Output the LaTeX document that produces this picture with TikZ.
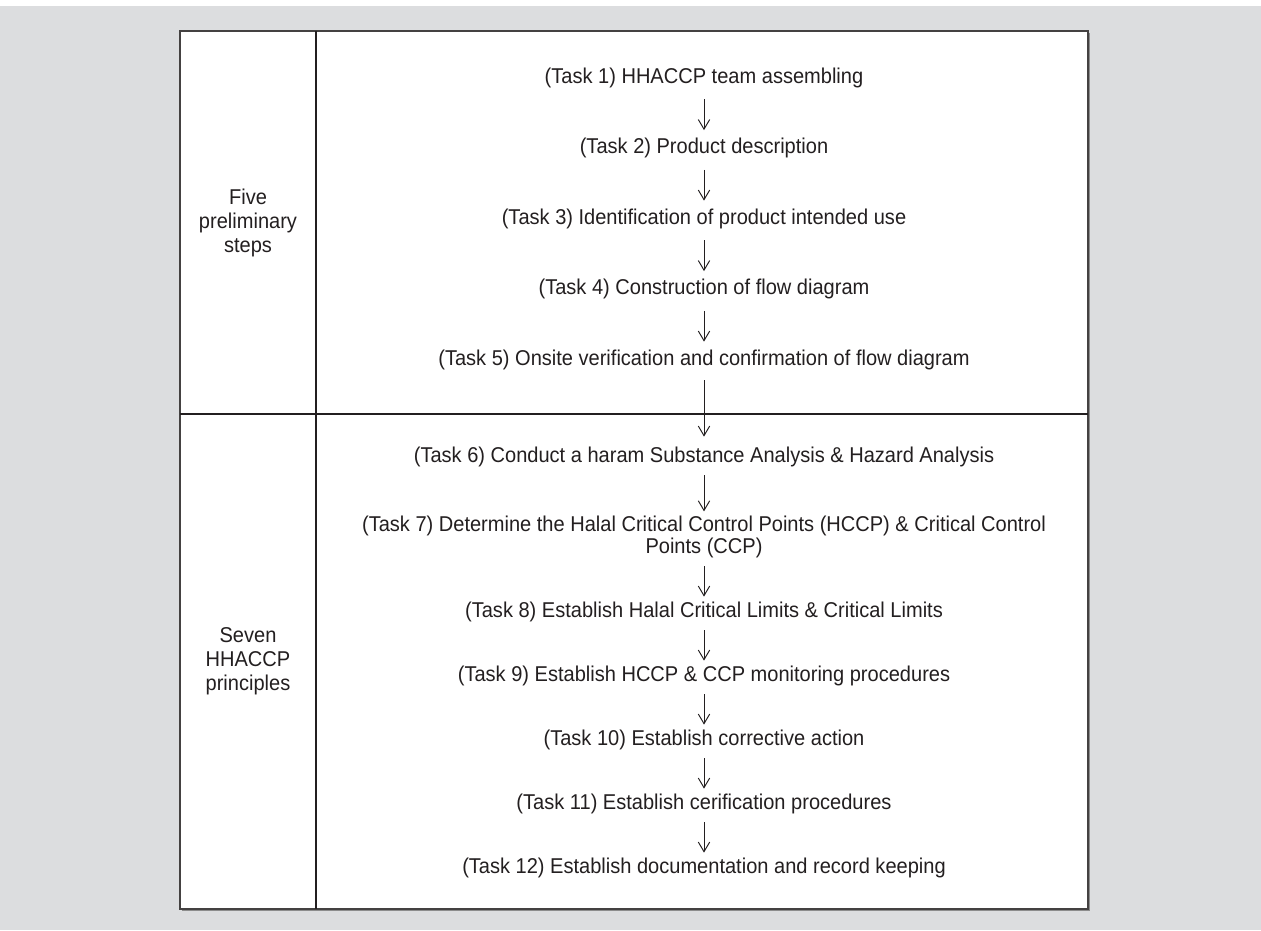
\documentclass[tikz,border=0pt]{standalone}
\usepackage{fontspec}
\setmainfont[FakeStretch=0.935]{Liberation Sans}
\usetikzlibrary{arrows.meta}

\definecolor{pagegray}{RGB}{220,221,223}
\definecolor{ink}{RGB}{35,31,32}

\begin{document}
\begin{tikzpicture}[x=0.02cm, y=-0.02cm,
        task/.style={anchor=base, inner sep=0pt, text=ink, align=center},
        group/.style={inner sep=0pt, text=ink, align=center},
        flow/.style={-{Straight Barb[length=5.5pt,width=6.5pt]}, line width=0.55pt, ink},
        upper/.style={flow, shorten <=0.23cm, shorten >=0.15cm},
        lower/.style={flow, shorten <=0.17cm, shorten >=0.09cm},
        cross/.style={flow, shorten <=0.21cm, shorten >=0.19cm}]
        \fontsize{12.2}{13.66}\selectfont
        \useasboundingbox (0,0) rectangle (1261,930);
        \fill[pagegray] (0,6) rectangle (1261,930);

        % table frame
        \fill[black!45] (181.5,32.5) rectangle (1089.5,910.5);
        \draw[fill=white, draw=ink!85, line width=0.9pt] (180,31) rectangle (1088,909);
        \draw[line width=0.7pt, ink] (316,31) -- (316,909);
        \draw[line width=0.7pt, ink] (180,414) -- (1088,414);

        \node[group] (pre) at (248,222.5) {Five\\preliminary\\steps};
        \node[group] (pri) at (248,661.5) {Seven\\HHACCP\\principles};

        \node[task] (t1) at (704,83) {(Task 1) HHACCP team assembling};
        \node[task] (t2) at (704,153.5) {(Task 2) Product description};
        \node[task] (t3) at (704,224) {(Task 3) Identification of product intended use};
        \node[task] (t4) at (704,294.5) {(Task 4) Construction of flow diagram};
        \node[task] (t5) at (704,365) {(Task 5) Onsite verification and confirmation of flow diagram};
        \node[task] (t6) at (704,462) {(Task 6) Conduct a haram Substance Analysis \& Hazard Analysis};
        % two lines: base is the second line
        \node[task, font=\fontsize{12.2}{12.1}\selectfont] (t7) at (704,553)
            {(Task 7) Determine the Halal Critical Control Points (HCCP) \& Critical Control\\Points (CCP)};
        \node[task] (t8) at (704,617) {(Task 8) Establish Halal Critical Limits \& Critical Limits};
        \node[task] (t9) at (704,681) {(Task 9) Establish HCCP \& CCP monitoring procedures};
        \node[task] (t10) at (704,745) {(Task 10) Establish corrective action};
        \node[task] (t11) at (704,809) {(Task 11) Establish cerification procedures};
        \node[task] (t12) at (704,873) {(Task 12) Establish documentation and record keeping};

        \path (t1.south) edge[upper] (t2.north)
              (t2.south) edge[upper] (t3.north)
              (t3.south) edge[upper] (t4.north)
              (t4.south) edge[upper] (t5.north)
              (t5.south) edge[cross] (t6.north)
              (t6.south) edge[lower] (t7.north)
              (t7.south) edge[lower] (t8.north)
              (t8.south) edge[lower] (t9.north)
              (t9.south) edge[lower] (t10.north)
              (t10.south) edge[lower] (t11.north)
              (t11.south) edge[lower] (t12.north)
        ;
\end{tikzpicture}
\end{document}
